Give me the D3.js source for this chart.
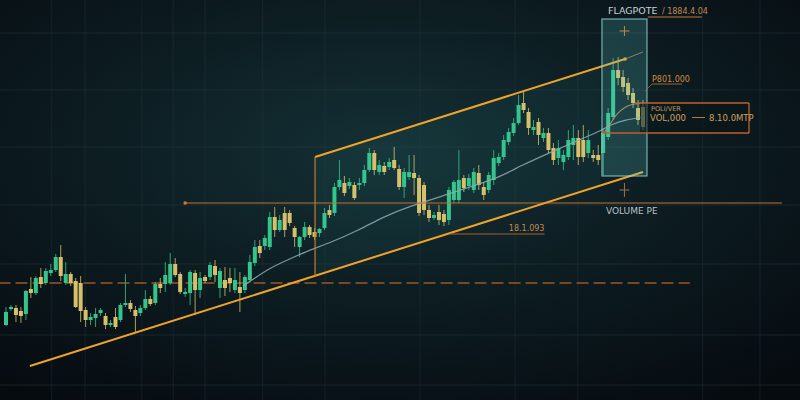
<!DOCTYPE html>
<html><head><meta charset="utf-8">
<script src="https://cdn.jsdelivr.net/npm/d3@7/dist/d3.min.js"></script>
<style>html,body{margin:0;padding:0;background:#08121a;}svg{display:block;}</style>
</head><body><svg id="c" width="800" height="400"></svg>
<script>
// ---- data (price units) ----
const opens  = [75,91,92,89,86,111,107,123,117,127,130,143,117,126,119,117,90,80,82,87,84,75,83,80,95,97,90,87,92,101,97,116,116,117,136,126,106,107,127,110,123,123,134,112,120,122,110,113,110,120,137,154,154,153,183,170,187,187,172,153,163,173,168,167,172,190,187,213,217,214,215,215,217,230,247,228,234,233,240,231,213,223,227,222,215,190,182,188,186,180,200,200,222,214,210,227,213,210,220,237,243,258,267,277,297,288,270,278,262,267,252,242,238,243,255,262,260,247,245,245,247,263,283,330,323,317,307,292,293];
const closes = [88,93,85,84,109,107,122,116,129,130,143,124,126,117,93,89,80,83,86,90,75,77,73,95,97,91,84,92,101,96,116,112,125,136,125,108,108,128,110,122,119,135,125,129,112,117,120,107,123,138,153,147,162,183,170,180,170,177,163,163,173,165,163,171,187,185,213,220,207,218,202,217,230,247,230,235,228,238,232,213,228,228,222,187,190,182,185,180,178,210,218,220,212,222,228,215,205,225,242,243,260,268,277,295,290,272,273,265,267,250,240,252,245,260,262,243,243,260,242,240,267,287,330,322,313,305,297,280,273];
const highs  = [93,95,95,93,110,123,124,132,132,136,146,155,138,128,122,124,93,87,92,92,87,80,92,97,126,100,94,95,110,104,118,122,138,147,142,128,112,130,130,128,125,138,140,132,133,132,132,128,125,145,160,160,165,188,193,185,193,190,174,164,178,175,172,172,192,195,217,240,224,222,218,222,235,252,250,240,238,242,253,235,232,245,245,225,218,195,188,195,190,213,220,250,225,226,232,235,218,228,250,247,265,272,282,305,308,292,280,282,272,272,257,260,250,270,275,270,275,270,250,255,272,292,342,343,330,322,312,300,300];
const lows   = [74,89,78,77,80,102,105,112,115,124,128,119,115,114,92,78,73,75,73,84,71,73,71,78,93,88,67,84,90,94,95,107,108,115,123,106,103,95,85,102,117,120,118,102,104,108,107,88,107,117,134,142,150,150,163,168,163,174,153,143,160,162,160,163,170,182,184,210,204,211,200,210,214,228,225,225,225,230,230,210,202,220,205,184,185,178,180,175,174,175,197,197,208,210,207,210,200,207,215,234,240,255,264,275,287,265,265,255,258,247,235,235,230,240,240,235,238,242,238,235,225,260,280,315,308,300,292,275,270];

// moving average lines (candle index, price)
const maGreyIdx = [47.6,50,53,57,61,65,71,75.7,81.2,87.2,93.2,99.3,103.3,110,114.7,119.4,121.8,124.4,128];
const maGreyVal = [114,122,132,141,150,157,170,183,194,203,213,223,234,249,259,269,276,280,283];
const maOrIdx = [120,121.4,122.8,124.4,125.8,128.4];
const maOrVal = [266,276,287,293,296,297];

// grid
const gridPrices = [367,310,253,195,136,65,15];
const gridIdx = [9.2,15.9,27.3,33.6,40,51.6,64.1,83.2,102.3,114.9,140,151.5];

// annotation geometry (candle index, price)
const chanUpper = [[62.1,243],[124.4,341]];
const chanUpperExt = [[124.4,341],[128,348]];
const chanLower = [[4.8,34],[128,228]];
const chanFill = [[62.1,243],[119.35,333],[119.35,214],[62.1,124]];
const levelLine = {from:36, to:155.9, price:197};
const dashLevel = {from:-1.5, to:137.4, price:117};
const noteLine = {from:89.2, to:108.2, price:166};
const flagBox = {x0:119.75, x1:128.8, p0:381, p1:224};
const infoBox = {x0:127.4, x1:149.3, p0:297, p1:267, ext:119.8, topStart:126.4};

const labels = {flag:"FLAGPOTE", flagVal:"/ 1884.4.04", p801:"P801.000", poli:"POLI/VER", vol:"VOL,000", volVal:"8.10.0MTP", volume:"VOLUME PE", note:"18.1.093"};

// ---- scales ----
const W=800,H=400;
const x = d3.scaleLinear().domain([0,128]).range([6,643]);
const y = d3.scaleLinear().domain([0,400]).range([400,0]);

const svg = d3.select("#c");
const defs = svg.append("defs");
const rg = defs.append("radialGradient").attr("id","bg").attr("cx","48%").attr("cy","38%").attr("r","75%");
rg.append("stop").attr("offset","0%").attr("stop-color","#143035");
rg.append("stop").attr("offset","45%").attr("stop-color","#0d1e23");
rg.append("stop").attr("offset","100%").attr("stop-color","#060b10");
svg.append("rect").attr("width",W).attr("height",H).attr("fill","url(#bg)");

// grid
svg.append("g").selectAll("line").data(gridPrices).join("line")
  .attr("x1",0).attr("x2",W).attr("y1",d=>y(d)).attr("y2",d=>y(d))
  .attr("stroke","#2a3d44").attr("stroke-opacity",0.45).attr("stroke-width",1);
svg.append("g").selectAll("line").data(gridIdx).join("line")
  .attr("y1",0).attr("y2",H).attr("x1",d=>x(d)).attr("x2",d=>x(d))
  .attr("stroke","#2a3d44").attr("stroke-opacity",0.35).attr("stroke-width",1);

// channel fill
const lineXY = d3.line().x(d=>x(d[0])).y(d=>y(d[1]));
svg.append("path").attr("d",lineXY(chanFill)+"Z").attr("fill","#2a8a80").attr("fill-opacity",0.09);

// dashed level
svg.append("line").attr("x1",x(dashLevel.from)).attr("x2",x(dashLevel.to))
  .attr("y1",y(dashLevel.price)).attr("y2",y(dashLevel.price))
  .attr("stroke","#b5602a").attr("stroke-width",1.4).attr("stroke-dasharray","12,5").attr("stroke-opacity",0.85);

// candles
const candles = opens.map((o,i)=>({i,o,c:closes[i],h:highs[i],l:lows[i]}));
const green="#34c48c", yellow="#d7c06c";
const cg = svg.append("g");
cg.selectAll("line").data(candles).join("line")
  .attr("x1",d=>x(d.i)).attr("x2",d=>x(d.i)).attr("y1",d=>y(d.h)).attr("y2",d=>y(d.l))
  .attr("stroke",d=>d.c>=d.o?green:yellow).attr("stroke-opacity",0.8).attr("stroke-width",1);
const bw = 4;
cg.selectAll("rect").data(candles).join("rect")
  .attr("x",d=>x(d.i)-bw/2).attr("width",bw)
  .attr("y",d=>y(Math.max(d.o,d.c))).attr("height",d=>Math.max(1.5,Math.abs(y(d.o)-y(d.c))))
  .attr("fill",d=>d.c>=d.o?green:yellow);

// moving averages
const maLine = d3.line().x(d=>x(d[0])).y(d=>y(d[1])).curve(d3.curveBasis);
svg.append("path").attr("d",maLine(maGreyIdx.map((v,i)=>[v,maGreyVal[i]])))
  .attr("fill","none").attr("stroke","#8fa9b0").attr("stroke-width",1.2).attr("stroke-opacity",0.85);
svg.append("path").attr("d",maLine(maOrIdx.map((v,i)=>[v,maOrVal[i]])))
  .attr("fill","none").attr("stroke","#c8905a").attr("stroke-width",1.1).attr("stroke-opacity",0.85);

// level line
svg.append("line").attr("x1",x(levelLine.from)).attr("x2",x(levelLine.to))
  .attr("y1",y(levelLine.price)).attr("y2",y(levelLine.price))
  .attr("stroke","#c4702e").attr("stroke-width",1.1);
svg.append("circle").attr("cx",x(levelLine.from)).attr("cy",y(levelLine.price)).attr("r",1.8).attr("fill","#d07a30");

// channel
svg.append("path").attr("d",lineXY(chanUpper)).attr("stroke","#f0a22a").attr("stroke-width",2).attr("fill","none");
svg.append("path").attr("d",lineXY(chanUpperExt)).attr("stroke","#9a6a48").attr("stroke-width",1).attr("fill","none");
svg.append("path").attr("d",lineXY(chanLower)).attr("stroke","#f0a22a").attr("stroke-width",2).attr("fill","none");
svg.append("line").attr("x1",x(chanFill[0][0])).attr("x2",x(chanFill[0][0]))
  .attr("y1",y(chanFill[0][1])).attr("y2",y(chanFill[3][1])).attr("stroke","#c8782c").attr("stroke-width",1.2);
svg.append("circle").attr("cx",x(chanUpper[1][0])).attr("cy",y(chanUpper[1][1])).attr("r",1.8).attr("fill","#f0a22a");

// note line + text
svg.append("line").attr("x1",x(noteLine.from)).attr("x2",x(noteLine.to))
  .attr("y1",y(noteLine.price)).attr("y2",y(noteLine.price)).attr("stroke","#a8602a").attr("stroke-width",1);
svg.append("text").attr("x",x(noteLine.to)).attr("y",y(noteLine.price)-3).attr("text-anchor","end")
  .attr("font-family","DejaVu Sans").attr("font-size",8).attr("fill","#c88a50").text(labels.note);

// flag box
svg.append("rect").attr("x",x(flagBox.x0)).attr("y",y(flagBox.p0))
  .attr("width",x(flagBox.x1)-x(flagBox.x0)).attr("height",y(flagBox.p1)-y(flagBox.p0))
  .attr("fill","#5fd0d0").attr("fill-opacity",0.2).attr("stroke","#8fd0d0").attr("stroke-opacity",0.8).attr("stroke-width",1.2);

// crosshairs
function plus(cx,cy,a,b,col){
  svg.append("line").attr("x1",cx-a).attr("x2",cx+a).attr("y1",cy).attr("y2",cy).attr("stroke",col).attr("stroke-width",1);
  svg.append("line").attr("x1",cx).attr("x2",cx).attr("y1",cy-b).attr("y2",cy+b).attr("stroke",col).attr("stroke-width",1);
}
const fxm = (flagBox.x0+flagBox.x1)/2;
plus(x(fxm), y(369), 5, 5, "#c08a4a");
plus(x(fxm), y(210), 5, 7, "#a07048");

// info box
const ib = infoBox;
svg.append("rect").attr("x",x(ib.x0)).attr("y",y(ib.p0)).attr("width",x(ib.x1)-x(ib.x0)).attr("height",y(ib.p1)-y(ib.p0))
  .attr("fill","#0a1518").attr("fill-opacity",0.55).attr("stroke","none");
svg.append("line").attr("x1",x(ib.topStart)).attr("x2",x(ib.x1)).attr("y1",y(ib.p0)).attr("y2",y(ib.p0)).attr("stroke","#c0602a").attr("stroke-width",1.3);
svg.append("line").attr("x1",x(ib.ext)).attr("x2",x(ib.x1)).attr("y1",y(ib.p1)).attr("y2",y(ib.p1)).attr("stroke","#c0602a").attr("stroke-width",1.3);
svg.append("line").attr("x1",x(ib.x1)).attr("x2",x(ib.x1)).attr("y1",y(ib.p0)).attr("y2",y(ib.p1)).attr("stroke","#c0602a").attr("stroke-width",1.3);
const tx = x(ib.x0)+11;
svg.append("text").attr("x",tx).attr("y",y(ib.p0)+7.5).attr("font-family","DejaVu Sans").attr("font-size",6.5).attr("fill","#c89a5a").text(labels.poli);
svg.append("text").attr("x",tx-1).attr("y",y(ib.p0)+18).attr("font-family","DejaVu Sans").attr("font-size",8.5).attr("fill","#d0a060").text(labels.vol);
svg.append("line").attr("x1",tx+41).attr("x2",tx+54).attr("y1",y(ib.p0)+14.5).attr("y2",y(ib.p0)+14.5).attr("stroke","#b07a40").attr("stroke-width",1);
svg.append("text").attr("x",tx+58).attr("y",y(ib.p0)+18).attr("font-family","DejaVu Sans").attr("font-size",8.5).attr("fill","#d0a060").text(labels.volVal);

// P801 label
const px = x(ib.x0)+12, py = y(318);
svg.append("text").attr("x",px).attr("y",py).attr("font-family","DejaVu Sans").attr("font-size",8).attr("fill","#d08a40").text(labels.p801);
svg.append("line").attr("x1",px).attr("x2",px+30).attr("y1",py+2).attr("y2",py+2).attr("stroke","#c07a38").attr("stroke-width",0.8);
svg.append("line").attr("x1",px-7).attr("x2",px).attr("y1",py+9).attr("y2",py+2).attr("stroke","#a0683a").attr("stroke-width",0.8);

// FLAGPOTE title
const fx = x(flagBox.x0)+6, fy = y(386);
svg.append("text").attr("x",fx).attr("y",fy).attr("font-family","DejaVu Sans").attr("font-size",9.5).attr("fill","#c8d2d2").text(labels.flag);
svg.append("line").attr("x1",fx+40).attr("x2",fx+94).attr("y1",fy+3).attr("y2",fy+3).attr("stroke","#c07a38").attr("stroke-width",1);
svg.append("text").attr("x",fx+54).attr("y",fy).attr("font-family","DejaVu Sans").attr("font-size",8).attr("fill","#c08a50").text(labels.flagVal);

// VOLUME PE
svg.append("text").attr("x",x(flagBox.x0)+4).attr("y",y(levelLine.price)+11).attr("font-family","DejaVu Sans").attr("font-size",9).attr("fill","#b8c2c2").text(labels.volume);
</script></body></html>
